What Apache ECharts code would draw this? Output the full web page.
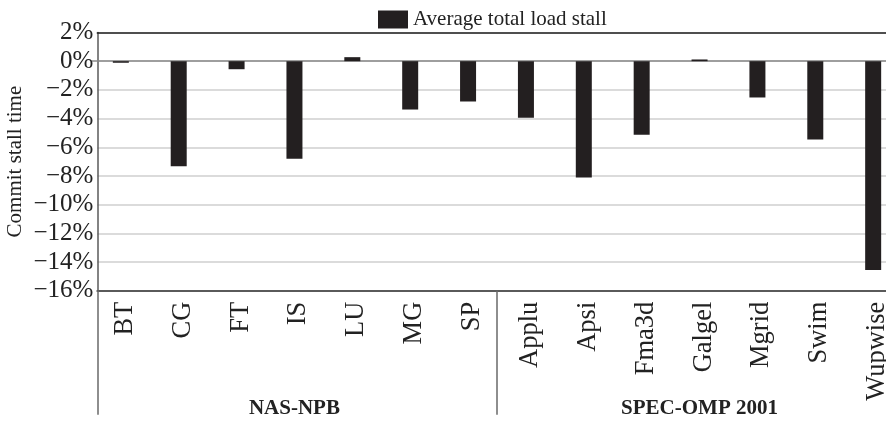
<!DOCTYPE html>
<html>
<head>
<meta charset="utf-8">
<script src="https://cdn.jsdelivr.net/npm/echarts@6/dist/echarts.min.js"></script>
<style>
  html, body { margin: 0; padding: 0; background: #fff; }
  #chart { width: 886px; height: 421px; }
</style>
</head>
<body>
<div id="chart"></div>
<script>
// Benchmarks, in plotting order
const categories = ['BT', 'CG', 'FT', 'IS', 'LU', 'MG', 'SP',
  'Applu', 'Apsi', 'Fma3d', 'Galgel', 'Mgrid', 'Swim', 'Wupwise'];
// Change in commit stall time (%)
const loadStall = [-0.11, -7.32, -0.56, -6.8, 0.28, -3.37, -2.81,
  -3.95, -8.1, -5.13, 0.12, -2.53, -5.46, -14.56];
// Benchmark suites and how many benchmarks each holds
const groups = ['NAS-NPB', 'SPEC-OMP 2001'];
const groupSizes = [7, 7];
// Value axis range
const yMin = -16, yMax = 2, yStep = 2;

const seriesName = 'Average total load stall';
const serif = '"Liberation Serif", "DejaVu Serif", serif';

// Suite boundaries and suite centres, in benchmark units
const groupEdges = [];
const groupCentres = [];
let acc = 0;
groupSizes.forEach((n, i) => {
  groupCentres.push(acc + n / 2);
  acc += n;
  if (i < groupSizes.length - 1) groupEdges.push(acc);
});

const pct = v => (v < 0 ? '\u2212' : '') + Math.abs(v) + '%';

const chart = echarts.init(document.getElementById('chart'), null, { renderer: 'canvas' });

chart.setOption({
  animation: false,
  backgroundColor: '#fff',
  legend: {
    data: [seriesName],
    left: 378, top: 9,
    padding: 0,
    icon: 'rect',
    itemWidth: 30, itemHeight: 18,
    itemGap: 10,
    textStyle: { fontFamily: serif, fontSize: 21, color: '#222', padding: [0, 0, 0, 0] }
  },
  grid: [
    // frame, value axis and gridlines
    { left: 97.3, top: 32.5, right: 0, height: 258.2, outerBoundsMode: 'none', containLabel: false },
    // benchmark bands
    { left: 91.9, top: 32.5, width: 810.2, height: 258.2, outerBoundsMode: 'none', containLabel: false }
  ],
  xAxis: [
    {
      gridIndex: 0, type: 'value', min: 0, max: 1, position: 'bottom',
      axisLine: { show: true, onZero: false, lineStyle: { color: '#5a5a5a', width: 2 } },
      axisTick: { show: true, customValues: [0], length: 124, inside: false,
        lineStyle: { color: '#6a6a6a', width: 1.5 } },
      axisLabel: { show: false },
      splitLine: { show: false }
    },
    {
      gridIndex: 0, type: 'value', min: 0, max: 1, position: 'top',
      axisLine: { show: true, onZero: false, lineStyle: { color: '#222', width: 1.5 } },
      axisTick: { show: false },
      axisLabel: { show: false },
      splitLine: { show: false }
    },
    {
      gridIndex: 1, type: 'category', data: categories, position: 'bottom',
      axisLine: { show: false, onZero: false },
      axisTick: { show: false },
      splitLine: { show: false },
      axisLabel: {
        interval: 0, rotate: 90, margin: 11,
        verticalAlign: 'top', lineHeight: 8,
        fontFamily: serif, fontSize: 26.5, color: '#222'
      }
    },
    {
      gridIndex: 1, type: 'category', data: categories, position: 'bottom',
      axisLine: { show: true, onZero: true, lineStyle: { color: '#8a8a8a', width: 1.5 } },
      axisTick: { show: false },
      axisLabel: { show: false },
      splitLine: { show: false }
    },
    {
      gridIndex: 1, type: 'value', min: 0, max: categories.length, position: 'bottom',
      axisLine: { show: false, onZero: false },
      axisTick: { show: true, customValues: groupEdges, length: 124,
        lineStyle: { color: '#6a6a6a', width: 1.5 } },
      axisLabel: {
        show: true, customValues: groupCentres, margin: 107,
        fontFamily: serif, fontSize: 21, fontWeight: 'bold', color: '#222',
        formatter: v => groups[groupCentres.indexOf(v)] || ''
      },
      splitLine: { show: false }
    }
  ],
  yAxis: [
    {
      gridIndex: 0, type: 'value', min: yMin, max: yMax, interval: yStep,
      name: 'Commit stall time', nameLocation: 'middle', nameGap: 71, nameRotate: 90,
      nameMoveOverlap: false,
      nameTextStyle: { fontFamily: serif, fontSize: 21, color: '#222' },
      axisLine: { show: true, onZero: false, lineStyle: { color: '#5a5a5a', width: 1.5 } },
      axisTick: { show: false },
      axisLabel: { margin: 4, fontFamily: serif, fontSize: 25, color: '#222', formatter: pct },
      splitLine: { show: true, lineStyle: { color: '#cfcfcf', width: 1.5 } }
    },
    {
      gridIndex: 1, type: 'value', min: yMin, max: yMax, interval: yStep, show: false
    }
  ],
  series: [
    {
      name: seriesName,
      type: 'bar',
      xAxisIndex: 2,
      yAxisIndex: 1,
      data: loadStall,
      barWidth: 16,
      itemStyle: { color: '#231f20' }
    }
  ]
});
</script>
</body>
</html>
